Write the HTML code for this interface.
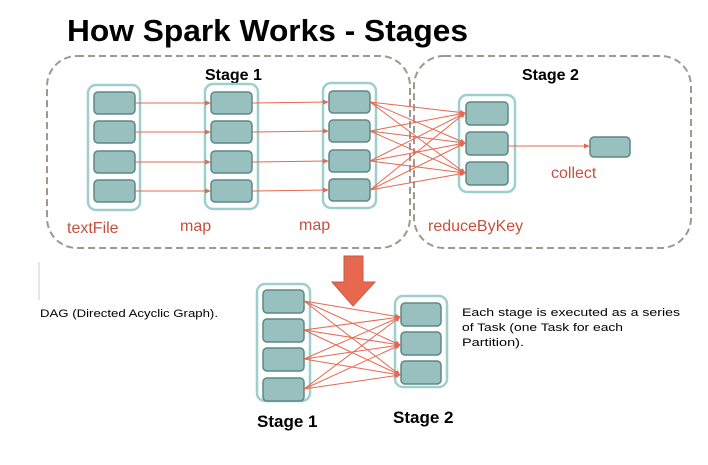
<!DOCTYPE html><html><head><style>body{margin:0;background:#fff;width:708px;height:460px;overflow:hidden;font-family:"Liberation Sans",sans-serif}</style></head><body>
<svg width="708" height="460" xmlns="http://www.w3.org/2000/svg" font-family="Liberation Sans, sans-serif">
<defs><marker id="a" markerWidth="6" markerHeight="6" refX="5" refY="3" orient="auto"><path d="M0,0.5 L6,3 L0,5.5z" fill="#e8674f"/></marker></defs>
<text x="67" y="41" font-size="31" font-weight="bold" textLength="401" lengthAdjust="spacingAndGlyphs">How Spark Works - Stages</text>
<rect x="47" y="56" width="363" height="192" rx="30" fill="none" stroke="#a09890" stroke-width="2" stroke-dasharray="7,4"/>
<rect x="414" y="56" width="277" height="192" rx="30" fill="none" stroke="#a09890" stroke-width="2" stroke-dasharray="7,4"/>
<text x="205" y="80" font-size="16" font-weight="bold">Stage 1</text>
<text x="522" y="80" font-size="16" font-weight="bold">Stage 2</text>
<g fill="none" stroke="#9fcfcd" stroke-width="2.5">
<rect x="88" y="85" width="52" height="125" rx="8"/><rect x="205" y="84" width="53" height="125" rx="8"/><rect x="323" y="83" width="53" height="125" rx="8"/><rect x="459" y="95" width="56" height="97" rx="8"/>
<rect x="257" y="284" width="53" height="117" rx="8"/><rect x="395" y="296" width="52" height="91" rx="8"/></g>
<g fill="#97c0bf" stroke="#5d8887" stroke-width="1.5">
<rect x="94" y="92" width="41" height="22" rx="4"/><rect x="94" y="121" width="41" height="22" rx="4"/><rect x="94" y="151" width="41" height="22" rx="4"/><rect x="94" y="180" width="41" height="22" rx="4"/>
<rect x="211" y="92" width="41" height="22" rx="4"/><rect x="211" y="121" width="41" height="22" rx="4"/><rect x="211" y="151" width="41" height="22" rx="4"/><rect x="211" y="180" width="41" height="22" rx="4"/>
<rect x="329" y="91" width="41" height="22" rx="4"/><rect x="329" y="120" width="41" height="22" rx="4"/><rect x="329" y="150" width="41" height="22" rx="4"/><rect x="329" y="179" width="41" height="22" rx="4"/>
<rect x="466" y="102" width="42" height="23" rx="4"/><rect x="466" y="132" width="42" height="23" rx="4"/><rect x="466" y="162" width="42" height="23" rx="4"/>
<rect x="590" y="137" width="40" height="20" rx="4"/>
<rect x="263" y="290" width="41" height="23" rx="4"/><rect x="263" y="319" width="41" height="23" rx="4"/><rect x="263" y="348" width="41" height="23" rx="4"/><rect x="263" y="378" width="41" height="23" rx="4"/>
<rect x="401" y="303" width="40" height="23" rx="4"/><rect x="401" y="332" width="40" height="23" rx="4"/><rect x="401" y="361" width="40" height="23" rx="4"/>
</g>
<g stroke="#e8674f" stroke-width="1" marker-end="url(#a)">
<line x1="135" y1="103" x2="210" y2="103"/><line x1="135" y1="132" x2="210" y2="132"/><line x1="135" y1="162" x2="210" y2="162"/><line x1="135" y1="191" x2="210" y2="191"/>
<line x1="252" y1="103" x2="328" y2="102"/><line x1="252" y1="132" x2="328" y2="131"/><line x1="252" y1="162" x2="328" y2="161"/><line x1="252" y1="191" x2="328" y2="190"/>
<line x1="370" y1="102" x2="465" y2="113"/><line x1="370" y1="102" x2="465" y2="143"/><line x1="370" y1="102" x2="465" y2="173"/>
<line x1="370" y1="131" x2="465" y2="113"/><line x1="370" y1="131" x2="465" y2="143"/><line x1="370" y1="131" x2="465" y2="173"/>
<line x1="370" y1="161" x2="465" y2="113"/><line x1="370" y1="161" x2="465" y2="143"/><line x1="370" y1="161" x2="465" y2="173"/>
<line x1="370" y1="190" x2="465" y2="113"/><line x1="370" y1="190" x2="465" y2="143"/><line x1="370" y1="190" x2="465" y2="173"/>
<line x1="508" y1="146" x2="589" y2="146"/>
<line x1="304" y1="301" x2="400" y2="317"/><line x1="304" y1="301" x2="400" y2="345"/><line x1="304" y1="301" x2="400" y2="375"/>
<line x1="304" y1="330" x2="400" y2="317"/><line x1="304" y1="330" x2="400" y2="345"/><line x1="304" y1="330" x2="400" y2="375"/>
<line x1="304" y1="359" x2="400" y2="317"/><line x1="304" y1="359" x2="400" y2="345"/><line x1="304" y1="359" x2="400" y2="375"/>
<line x1="304" y1="389" x2="400" y2="317"/><line x1="304" y1="389" x2="400" y2="345"/><line x1="304" y1="389" x2="400" y2="375"/>
</g>
<path d="M344,256 H363 V282 H375 L353,306 L332,282 H344z" fill="#e8674f" stroke="#c95a45"/>
<g fill="#c7503c" font-size="16"><text x="67" y="233">textFile</text><text x="180" y="231">map</text><text x="299" y="230">map</text><text x="428" y="231">reduceByKey</text><text x="551" y="178">collect</text></g>
<g font-size="17" font-weight="bold"><text x="257" y="427">Stage 1</text><text x="393" y="423">Stage 2</text></g>
<line x1="39" y1="262" x2="39" y2="300" stroke="#ccc"/>
<text x="40" y="317" font-size="11" textLength="178" lengthAdjust="spacingAndGlyphs">DAG (Directed Acyclic Graph).</text>
<g font-size="11"><text x="462" y="316" textLength="218" lengthAdjust="spacingAndGlyphs">Each stage is executed as a series</text><text x="462" y="331" textLength="161" lengthAdjust="spacingAndGlyphs">of Task (one Task for each</text><text x="462" y="346" textLength="62" lengthAdjust="spacingAndGlyphs">Partition).</text></g>
</svg></body></html>
